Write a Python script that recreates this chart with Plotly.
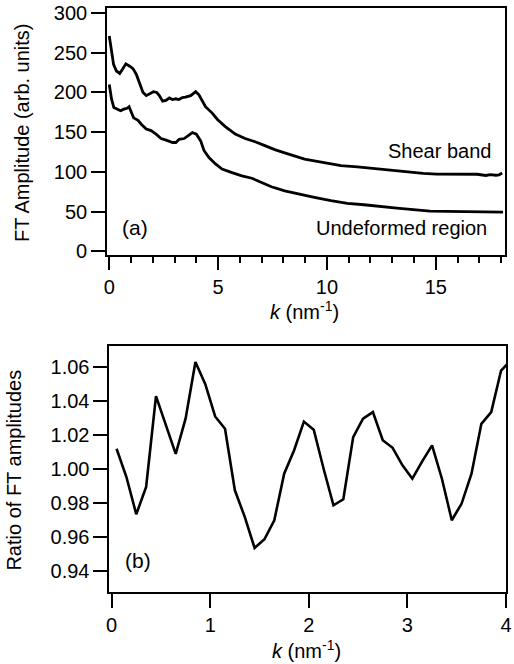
import plotly.graph_objects as go

# ---- Panel (a): FT amplitude vs k ----
k_shear = [0, 0.1, 0.2, 0.33, 0.48, 0.6, 0.76, 0.94, 1.09, 1.24, 1.39, 1.55, 1.7, 1.85,
           2.03, 2.18, 2.3, 2.45, 2.6, 2.76, 2.9, 3.06, 3.2, 3.36, 3.5, 3.74, 3.97, 4.12,
           4.27, 4.42, 4.73, 4.97, 5.33, 5.79, 6.24, 6.7, 7.15, 7.6, 8.06, 8.5, 8.97, 9.42,
           10.03, 10.64, 11.4, 12.15, 12.9, 13.67, 14.42, 15.03, 15.79, 16.5, 16.9, 17.3,
           17.5, 17.76, 17.9, 18.05]
amp_shear = [271, 252, 235, 227, 224, 229, 236, 233, 230, 223, 212, 200, 196, 198,
             201, 200, 196, 189, 190, 193, 191, 192, 191, 193.5, 194, 196, 201, 197,
             189, 182, 174, 166, 157, 147.5, 142, 138, 133, 128, 124, 120, 116, 114,
             110.6, 108, 106.4, 104.3, 102.2, 100, 98, 97.2, 96.8, 96.4, 97.0, 95.5,
             96.5, 95.8, 96.2, 98.5]

k_undef = [0, 0.106, 0.21, 0.36, 0.52, 0.67, 0.82, 0.91, 1.02, 1.12, 1.32, 1.47, 1.7,
           1.92, 2.15, 2.38, 2.61, 2.91, 3.06, 3.21, 3.44, 3.59, 3.82, 4.0, 4.2, 4.35,
           4.58, 4.88, 5.18, 5.64, 6.09, 6.55, 7.0, 7.45, 8.06, 8.67, 9.42, 10.18, 10.94,
           11.7, 12.45, 13.21, 13.97, 14.73, 15.48, 16.24, 17.0, 17.76, 18.09]
amp_undef = [210, 191.5, 181, 179, 177, 179, 180, 182, 175, 168, 165, 160, 154,
             152, 147.5, 142, 140, 137, 137, 141, 142, 145, 149.5, 147.5, 139, 127,
             118, 110, 103.5, 99, 95, 92, 86.7, 81.3, 76, 72, 68, 63.7, 60.3,
             58.6, 57, 54.5, 52.4, 50.7, 50.3, 49.9, 49.4, 49.9, 49.4]

# ---- Panel (b): ratio of FT amplitudes ----
k_ratio = [0.05, 0.15, 0.25, 0.35, 0.45, 0.55, 0.65, 0.75, 0.85, 0.95, 1.05, 1.15, 1.25,
           1.35, 1.45, 1.55, 1.65, 1.75, 1.85, 1.95, 2.05, 2.15, 2.25, 2.35, 2.45, 2.55,
           2.65, 2.75, 2.85, 2.95, 3.05, 3.15, 3.25, 3.35, 3.45, 3.55, 3.65, 3.75, 3.85,
           3.95, 4.05]
ratio = [1.012, 0.9954, 0.9735, 0.9896, 1.043, 1.026, 1.009, 1.0297, 1.063, 1.050,
         1.031, 1.0238, 0.9876, 0.972, 0.9537, 0.9588, 0.970, 0.9974, 1.011, 1.028,
         1.0232, 1.0003, 0.9788, 0.9823, 1.0189, 1.0297, 1.0336, 1.017, 1.0126, 1.0023,
         0.9944, 1.0046, 1.014, 0.9944, 0.970, 0.9798, 0.9974, 1.0267, 1.0336, 1.058,
         1.064]

FONT = "Liberation Sans, Arial, Helvetica, sans-serif"

fig = go.Figure()
fig.add_trace(go.Scatter(x=k_shear, y=amp_shear, mode="lines",
                         line=dict(color="black", width=2.8), xaxis="x", yaxis="y"))
fig.add_trace(go.Scatter(x=k_undef, y=amp_undef, mode="lines",
                         line=dict(color="black", width=2.8), xaxis="x", yaxis="y"))
fig.add_trace(go.Scatter(x=k_ratio, y=ratio, mode="lines",
                         line=dict(color="black", width=2.6), xaxis="x2", yaxis="y2"))

W, H = 514, 664
L, R, T, B = 107, 2, 7, 72
pw = W - L - R
ph = H - T - B

def px2paper_x(px):
    return (px - L) / pw

def px2paper_y(py):
    return (H - B - py) / ph

axis_common = dict(showline=True, linecolor="black", linewidth=1.6, mirror=True,
                   ticks="outside", tickcolor="black", tickwidth=1.6,
                   showgrid=False, zeroline=False, ticklabeloverflow="allow",
                   tickfont=dict(family=FONT, size=20, color="black"))

fig.update_layout(
    width=W, height=H,
    margin=dict(l=L, r=R, t=T, b=B),
    paper_bgcolor="white", plot_bgcolor="white",
    showlegend=False,
    font=dict(family=FONT, color="black"),
    xaxis=dict(domain=[0, px2paper_x(511)], range=[-0.104, 18.18], anchor="y",
               tickmode="array", tickvals=[0, 5, 10, 15], ticklen=14,
               minor=dict(ticks="outside", tickvals=[i for i in range(19) if i % 5],
                          ticklen=7, tickcolor="black", tickwidth=1.6),
               **axis_common),
    yaxis=dict(domain=[px2paper_y(254), 1], range=[-4.1, 306.3], anchor="x",
               tickmode="array", tickvals=[0, 50, 100, 150, 200, 250, 300], ticklen=14,
               **axis_common),
    xaxis2=dict(domain=[px2paper_x(109.3), 1], range=[-0.024, 4.0], anchor="y2",
                tickmode="array", tickvals=[0, 1, 2, 3, 4], ticklen=14,
                **axis_common),
    yaxis2=dict(domain=[0, px2paper_y(346)], range=[0.9278, 1.0722], anchor="x2",
                tickmode="array", tickvals=[0.94, 0.96, 0.98, 1.00, 1.02, 1.04, 1.06],
                tickformat=".2f", ticklen=14,
                **axis_common),
)

ann_font = dict(family=FONT, size=20, color="black")
annotations = [
    dict(text="FT Amplitude (arb. units)", textangle=-90, xref="paper", yref="paper",
         x=px2paper_x(20), y=px2paper_y(132), showarrow=False, font=ann_font,
         xanchor="center", yanchor="middle"),
    dict(text="Ratio of FT amplitudes", textangle=-90, xref="paper", yref="paper",
         x=px2paper_x(13), y=px2paper_y(470), showarrow=False, font=ann_font,
         xanchor="center", yanchor="middle"),
    dict(text="<i>k</i> (nm<sup>-1</sup>)", xref="paper", yref="paper",
         x=px2paper_x(307), y=px2paper_y(310), showarrow=False, font=ann_font,
         xanchor="center", yanchor="middle"),
    dict(text="<i>k</i> (nm<sup>-1</sup>)", xref="paper", yref="paper",
         x=px2paper_x(310), y=px2paper_y(650), showarrow=False, font=ann_font,
         xanchor="center", yanchor="middle"),
    dict(text="(a)", xref="x", yref="y", x=1.17, y=29.8, showarrow=False,
         font=dict(family=FONT, size=21, color="black"), xanchor="center", yanchor="middle"),
    dict(text="(b)", xref="x2", yref="y2", x=0.263, y=0.9465, showarrow=False,
         font=dict(family=FONT, size=21, color="black"), xanchor="center", yanchor="middle"),
    dict(text="Shear band", xref="x", yref="y", x=17.62, y=126.5, showarrow=False,
         font=ann_font, xanchor="right", yanchor="middle"),
    dict(text="Undeformed region", xref="x", yref="y", x=17.44, y=29.8, showarrow=False,
         font=ann_font, xanchor="right", yanchor="middle"),
]
fig.update_layout(annotations=annotations)

# remove the browser's default 8px body margin so the figure sits at the page origin
fig.write_html("out.html", config={"displayModeBar": False},
               post_script="document.body.style.margin='0px';")
